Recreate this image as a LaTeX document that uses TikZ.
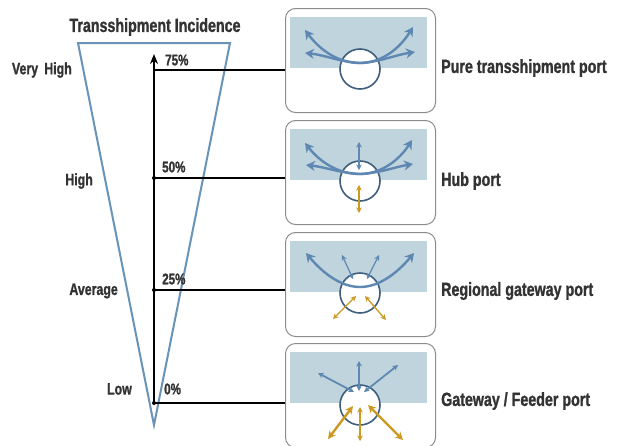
\documentclass[tikz,border=0pt]{standalone}
\usepackage{fontspec}
\newfontfamily\cond[FakeStretch=0.75,FakeBold=1.2]{Liberation Sans Bold}
\usetikzlibrary{arrows.meta}
\definecolor{tri}{HTML}{6A93B8}
\definecolor{sea}{HTML}{BFD4DD}
\definecolor{bluar}{HTML}{5E88B2}
\definecolor{orar}{HTML}{CC9A22}
\definecolor{circ}{HTML}{3F5E7E}
\definecolor{txt}{HTML}{333333}
\definecolor{frame}{HTML}{8C8C8C}
\tikzset{
  lbl/.style={font=\cond\fontsize{19}{21}\selectfont, text=txt, inner sep=0pt},
  lvl/.style={font=\cond\fontsize{16.5}{18}\selectfont, text=txt, inner sep=0pt, anchor=east},
  pct/.style={font=\cond\fontsize{15.5}{17}\selectfont, text=txt, inner sep=0pt, anchor=west},
  portbox/.style={draw=frame, line width=1pt, rounded corners=10pt, minimum width=150pt, minimum height=104pt, inner sep=0pt, anchor=north west},
  portcirc/.style={circle, draw=circ, fill=white, line width=1.6pt, minimum size=40pt, inner sep=0pt},
  bigar/.style={draw=bluar, line width=2.4pt, -{Stealth[length=9pt,width=10pt]}},
  thinar/.style={draw=bluar, line width=1.2pt, {Stealth[length=5.5pt,width=5.5pt]}-{Stealth[length=5.5pt,width=5.5pt]}},
  orthin/.style={draw=orar, line width=1.3pt, {Stealth[length=5.5pt,width=5.5pt]}-{Stealth[length=5.5pt,width=5.5pt]}},
  orthick/.style={draw=orar, line width=2.4pt, {Stealth[length=8pt,width=8pt]}-{Stealth[length=8pt,width=8pt]}},
  hline/.style={draw=black, line width=1.2pt},
  dotm/.style={circle, fill=black, inner sep=0pt, minimum size=4pt}
}
\begin{document}
\begin{tikzpicture}[x=1pt,y=-1pt]
\useasboundingbox (0,0) rectangle (618,445);
\fill[white] (0,0) rectangle (618,445);
% triangle
\draw[tri, line width=2pt, line join=miter] (78,43) -- (230,43) -- (154,425) -- cycle;
\node[lbl] (title) at (155,27) {Transshipment Incidence};
% levels
\node[lvl] (vh) at (72,70) {Very\, High};
\node[lvl] (hi) at (93,181) {High};
\node[lvl] (av) at (118,291) {Average};
\node[lvl] (lo) at (132,389) {Low};
% axis coordinates
\coordinate (a75) at (154,70);
\coordinate (a50) at (154,178);
\coordinate (a25) at (154,290);
\coordinate (a0) at (154,403);
\coordinate (atop) at (154,54);
% boxes
\foreach \i/\oy in {1/0,2/112,3/224,4/335}{
  \begin{scope}[shift={(0,\oy)}]
    \node[portbox] (box\i) at (285,8) {};
    \fill[sea] (290,17) rectangle (427,68);
  \end{scope}
}
% box 1
\begin{scope}[shift={(0,0)}]
  \node[portcirc] (c1) at (360,69) {};
  \coordinate (m1) at (360,63);
  \draw[bigar] (m1) .. controls (338,63) and (320,50) .. (305,30);
  \draw[bigar] (m1) .. controls (382,63) and (400,48) .. (413,27);
  \draw[bigar] (m1) .. controls (340,62) and (325,55) .. (305,53);
  \draw[bigar] (m1) .. controls (380,62) and (395,55) .. (415,52);
\end{scope}
% box 2
\begin{scope}[shift={(0,112)}]
  \node[portcirc] (c2) at (360,69) {};
  \coordinate (m2) at (360,62);
  \draw[bigar] (m2) .. controls (338,62) and (320,50) .. (305,31);
  \draw[bigar] (m2) .. controls (382,62) and (400,47) .. (412,28);
  \draw[bigar] (m2) .. controls (340,61) and (325,55) .. (306,53);
  \draw[bigar] (m2) .. controls (380,61) and (395,55) .. (413,52);
  \coordinate (u2a) at (359,30); \coordinate (u2b) at (359,58);
  \draw[thinar] (u2a) -- (u2b);
  \coordinate (o2a) at (359,73); \coordinate (o2b) at (359,101);
  \draw[orthin] (o2a) -- (o2b);
\end{scope}
% box 3
\begin{scope}[shift={(0,224)}]
  \node[portcirc] (c3) at (360,69) {};
  \coordinate (m3) at (360,63);
  \draw[bigar] (m3) .. controls (340,63) and (322,48) .. (306,29);
  \draw[bigar] (m3) .. controls (380,63) and (398,48) .. (414,29);
  \coordinate (u3a) at (342,31); \coordinate (u3b) at (353,55);
  \draw[thinar] (u3a) -- (u3b);
  \coordinate (u3c) at (379,31); \coordinate (u3d) at (367,55);
  \draw[thinar] (u3c) -- (u3d);
  \coordinate (o3a) at (356,72); \coordinate (o3b) at (333,95);
  \draw[orthin] (o3a) -- (o3b);
  \coordinate (o3c) at (365,72); \coordinate (o3d) at (386,96);
  \draw[orthin] (o3c) -- (o3d);
\end{scope}
% box 4
\begin{scope}[shift={(0,335)}]
  \node[portcirc] (c4) at (360,70) {};
  \coordinate (u4a) at (318,38); \coordinate (u4b) at (354,57);
  \draw[thinar, line width=1.8pt] (u4a) -- (u4b);
  \coordinate (u4c) at (359,26); \coordinate (u4d) at (359,56);
  \draw[thinar] (u4c) -- (u4d);
  \coordinate (u4e) at (398,30); \coordinate (u4f) at (364,57);
  \draw[thinar, line width=1.8pt] (u4e) -- (u4f);
  \coordinate (o4a) at (353,71); \coordinate (o4b) at (328,104);
  \draw[orthick] (o4a) -- (o4b);
  \coordinate (o4c) at (360,72); \coordinate (o4d) at (360,106);
  \draw[orthin] (o4c) -- (o4d);
  \coordinate (o4e) at (368,70); \coordinate (o4f) at (403,105);
  \draw[orthick] (o4e) -- (o4f);
\end{scope}
% axis and level lines
\draw[line width=2.4pt, -{Stealth[length=10pt,width=8pt]}] (a0) -- (atop);
\draw[hline] (a75) -- (a75 -| box1.west);
\draw[hline] (a50) -- (a50 -| box2.west);
\draw[hline] (a25) -- (a25 -| box3.west);
\draw[hline] (a0) -- (a0 -| box4.west);
\node[dotm] (d50) at (a50) {};
\node[dotm] (d25) at (a25) {};
\node[dotm] (d0) at (a0) {};
\node[pct] (p75) at (165,60) {75\%};
\node[pct] (p50) at (162,167) {50\%};
\node[pct] (p25) at (162,279) {25\%};
\node[pct] (p0) at (164,389) {0\%};
% port labels
\node[lbl, anchor=west] (n1) at (441,68) {Pure transshipment port};
\node[lbl, anchor=west] (n2) at (441,181) {Hub port};
\node[lbl, anchor=west] (n3) at (441,291) {Regional gateway port};
\node[lbl, anchor=west] (n4) at (441,401) {Gateway / Feeder port};
\end{tikzpicture}
\end{document}
